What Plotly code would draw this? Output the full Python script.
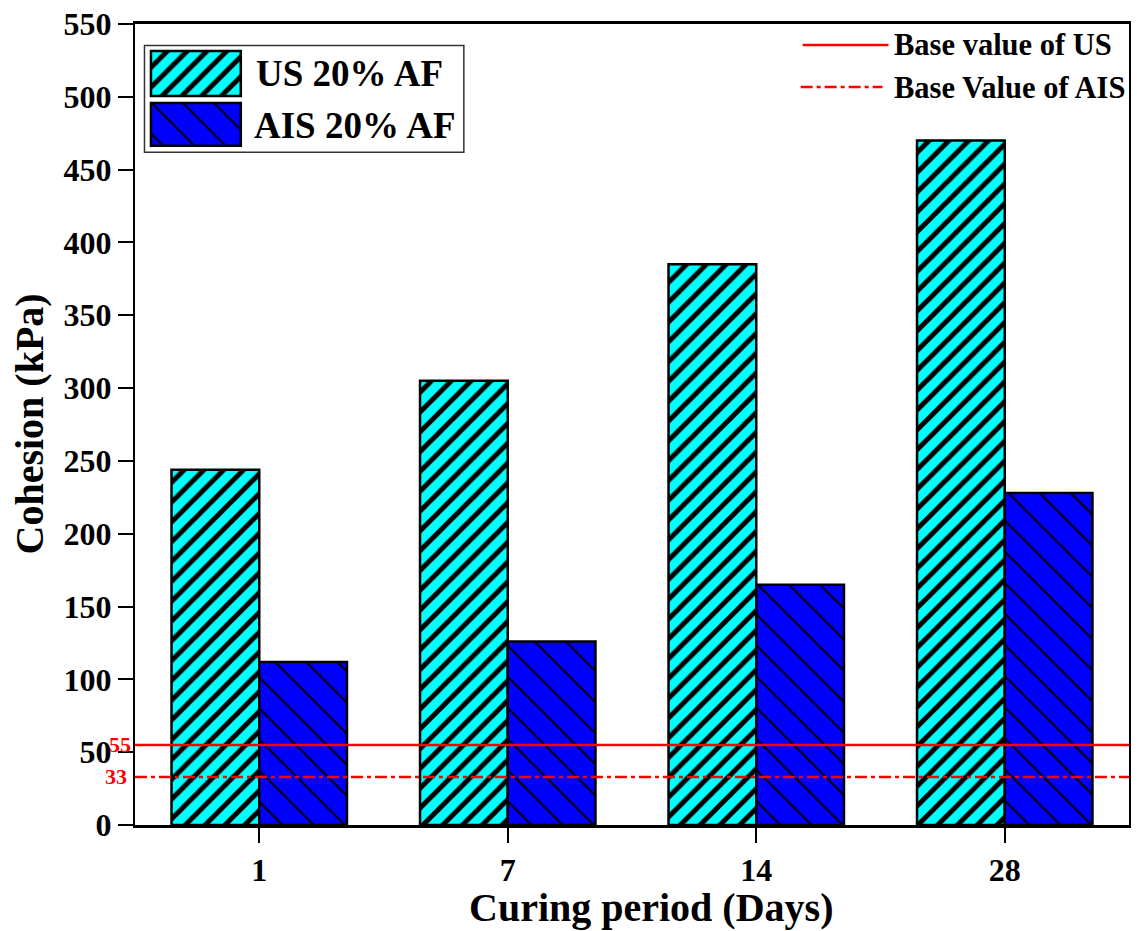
import plotly.graph_objects as go

# Cohesion after curing, untreated soil (US) vs. AIS, both with 20% AF
curing_days = ["1", "7", "14", "28"]
us_20_af = [244, 305, 385, 470]
ais_20_af = [112, 126, 165, 228]

# Base (untreated) cohesion values
us_base = 55
ais_base = 33

y_ticks = list(range(0, 551, 50))

FONT = "Liberation Serif"

US_FILL = "#00FFFF"
AIS_FILL = "#0000FF"
US_PATTERN = dict(shape="/", fgcolor="black", fgopacity=1, bgcolor=US_FILL, size=14, solidity=0.36)
AIS_PATTERN = dict(shape="\\", fgcolor="black", fgopacity=1, bgcolor=AIS_FILL, size=22, solidity=0.09)

fig = go.Figure()

fig.add_trace(go.Bar(
    x=curing_days, y=us_20_af, name="US 20% AF",
    marker=dict(color=US_FILL, pattern=US_PATTERN, line=dict(color="black", width=2.5)),
    showlegend=False,
))
fig.add_trace(go.Bar(
    x=curing_days, y=ais_20_af, name="AIS 20% AF",
    marker=dict(color=AIS_FILL, pattern=AIS_PATTERN, line=dict(color="black", width=2.5)),
    showlegend=False,
))

# Base value reference lines
fig.add_hline(y=us_base, line=dict(color="red", width=2.5))
fig.add_hline(y=ais_base, line=dict(color="red", width=2.5, dash="12px,4px,4px,4px"))

for val, shift in ((us_base, -2), (ais_base, -6)):
    fig.add_annotation(
        x=0, xref="paper", y=val, yref="y", text=str(val),
        xanchor="right", yanchor="middle", xshift=shift, showarrow=False,
        font=dict(family=FONT, size=22, color="red", weight="bold"),
    )

# Legend keys drawn on a helper pixel-space axis pair
fig.add_trace(go.Bar(
    orientation="h", y=[72.5], x=[90], base=[151], width=[45], offset=[-22.5],
    marker=dict(color=US_FILL, pattern=US_PATTERN, line=dict(color="black", width=2.5)),
    xaxis="x2", yaxis="y2", showlegend=False, hoverinfo="skip",
))
fig.add_trace(go.Bar(
    orientation="h", y=[123.5], x=[90], base=[151], width=[43], offset=[-21.5],
    marker=dict(color=AIS_FILL, pattern=AIS_PATTERN, line=dict(color="black", width=2.5)),
    xaxis="x2", yaxis="y2", showlegend=False, hoverinfo="skip",
))
fig.add_trace(go.Scatter(
    x=[804, 890], y=[44, 44], mode="lines", line=dict(color="red", width=2.5),
    xaxis="x2", yaxis="y2", showlegend=False, hoverinfo="skip",
))
fig.add_trace(go.Scatter(
    x=[802, 884], y=[86, 86], mode="lines",
    line=dict(color="red", width=2.5, dash="12px,4px,4px,4px"),
    xaxis="x2", yaxis="y2", showlegend=False, hoverinfo="skip",
))

legend_text = [
    ("US 20% AF", 254, 73, 37),
    ("AIS 20% AF", 252, 125, 37),
    ("Base value of US", 894, 44, 30.5),
    ("Base Value of AIS", 894, 87, 30.5),
]
for txt, lx, ly, fs in legend_text:
    fig.add_annotation(
        x=lx, y=ly, xref="x2", yref="y2", text=txt, showarrow=False,
        xanchor="left", yanchor="middle",
        font=dict(family=FONT, size=fs, color="black", weight="bold"),
    )

# Frame around the bar legend
fig.add_shape(
    type="rect", xref="x2", yref="y2", x0=144.5, x1=464.5, y0=44.5, y1=151.5,
    line=dict(color="#333333", width=1.5), fillcolor="white", layer="below",
)

# Axis titles
fig.add_annotation(
    x=652, xref="x2", y=-0.1035, yref="paper", yanchor="middle", xanchor="center",
    text="Curing period (Days)", showarrow=False,
    font=dict(family=FONT, size=40, color="black", weight="bold"),
)
fig.add_annotation(
    x=0, xref="paper", y=0.5, yref="paper", xshift=-106, text="Cohesion (kPa)",
    textangle=-90, showarrow=False, xanchor="center", yanchor="middle",
    font=dict(family=FONT, size=40, color="black", weight="bold"),
)

fig.update_layout(
    width=1137, height=931,
    margin=dict(l=135, r=6, t=23, b=106),
    paper_bgcolor="white", plot_bgcolor="white",
    barmode="group", bargap=0.294, bargroupgap=0,
    font=dict(family=FONT, color="black"),
    xaxis=dict(
        type="category", range=[-0.5, 3.5],
        showline=True, linecolor="black", linewidth=3, mirror=True,
        ticks="outside", ticklen=15, tickwidth=2, tickcolor="black",
        tickfont=dict(family=FONT, size=32, color="black", weight="bold"),
        showgrid=False, zeroline=False,
    ),
    yaxis=dict(
        range=[0, 550], tickvals=y_ticks,
        showline=True, linecolor="black", linewidth=2, mirror=True,
        ticks="outside", ticklen=15, tickwidth=2, tickcolor="black",
        tickfont=dict(family=FONT, size=32, color="black", weight="bold"),
        showgrid=False, zeroline=False,
    ),
    xaxis2=dict(overlaying="x", range=[135, 1131], visible=False, fixedrange=True),
    yaxis2=dict(overlaying="y", range=[825, 23], visible=False, fixedrange=True),
)

fig.write_html("out.html")
